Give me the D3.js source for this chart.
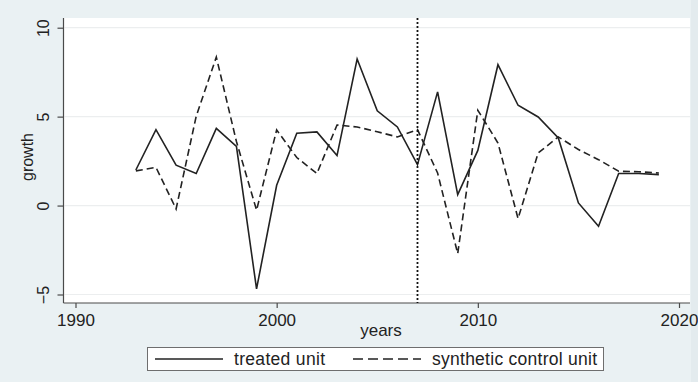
<!DOCTYPE html>
<html>
<head>
<meta charset="utf-8">
<script src="https://cdn.jsdelivr.net/npm/d3@7/dist/d3.min.js"></script>
<style>
  html, body { margin: 0; padding: 0; background: #eaf1f3; }
  svg { display: block; font-family: "Liberation Sans", Arial, Helvetica, sans-serif; }
</style>
</head>
<body>
<svg id="chart" width="698" height="382"></svg>
<script>
// Annual growth: treated unit vs. synthetic control unit
const years = [1993, 1994, 1995, 1996, 1997, 1998, 1999, 2000, 2001, 2002, 2003, 2004, 2005,
               2006, 2007, 2008, 2009, 2010, 2011, 2012, 2013, 2014, 2015, 2016, 2017, 2018, 2019];
const treated = [2.0, 4.27, 2.27, 1.8, 4.34, 3.33, -4.68, 1.14, 4.07, 4.14, 2.81, 8.24, 5.33,
                 4.42, 2.3, 6.39, 0.62, 3.1, 7.92, 5.64, 4.98, 3.8, 0.15, -1.16, 1.8, 1.8, 1.74];
const synthetic = [1.95, 2.15, -0.19, 5.02, 8.35, 3.6, -0.26, 4.25, 2.7, 1.8, 4.53, 4.42, 4.15,
                   3.86, 4.27, 1.83, -2.7, 5.36, 3.52, -0.73, 2.96, 3.86, 3.15, 2.58, 1.93, 1.9, 1.83];
const xTicks = [1990, 2000, 2010, 2020];
const yTicks = [-5, 0, 5, 10];
const interventionYear = 2007;
const seriesNames = ["treated unit", "synthetic control unit"];

const svg = d3.select("#chart");
const W = 698, H = 382;

// outer graph region
svg.append("rect").attr("x", 0).attr("y", 0).attr("width", W).attr("height", H).attr("fill", "#eaf1f3");
svg.append("rect").attr("x", 691).attr("y", 0).attr("width", 7).attr("height", H).attr("fill", "#e3ebee");

// plot region
const plot = { left: 63.5, right: 690, top: 18, bottom: 303 };
svg.append("rect")
  .attr("x", plot.left).attr("y", plot.top)
  .attr("width", plot.right - plot.left).attr("height", plot.bottom - plot.top)
  .attr("fill", "#ffffff");

const x = d3.scaleLinear().domain([1990, 2020]).range([75.5, 679]);
const y = d3.scaleLinear().domain([-5, 10]).range([294.5, 27.7]);

// horizontal grid
svg.append("g").selectAll("line").data(yTicks).join("line")
  .attr("x1", plot.left + 1).attr("x2", plot.right)
  .attr("y1", d => y(d)).attr("y2", d => y(d))
  .attr("stroke", "#eceeef").attr("stroke-width", 1.2);

// y axis
const yAxis = d3.axisLeft(y).tickValues(yTicks).tickSize(6).tickPadding(0).tickFormat(d3.format("d"));
const gy = svg.append("g").attr("transform", `translate(${plot.left},0)`).call(yAxis);
gy.select(".domain").attr("d", `M0,${plot.top}V${plot.bottom}`).attr("stroke", "#4a4a4a").attr("stroke-width", 1.2);
gy.selectAll(".tick line").attr("stroke", "#4a4a4a").attr("stroke-width", 1.2);
gy.selectAll(".tick text")
  .attr("x", 0).attr("dy", null)
  .attr("transform", "translate(-20,0) rotate(-90)")
  .attr("text-anchor", "middle").attr("dominant-baseline", "central")
  .attr("font-size", 16).attr("fill", "#222");

// x axis
const xAxis = d3.axisBottom(x).tickValues(xTicks).tickSize(5).tickPadding(6).tickFormat(d3.format("d"));
const gx = svg.append("g").attr("transform", `translate(0,${plot.bottom})`).call(xAxis);
gx.select(".domain").attr("d", `M${plot.left},0H${plot.right}`).attr("stroke", "#4a4a4a").attr("stroke-width", 1.2);
gx.selectAll(".tick line").attr("stroke", "#4a4a4a").attr("stroke-width", 1.2);
gx.selectAll(".tick text").attr("font-size", 17).attr("fill", "#222");

// axis titles
svg.append("text").attr("x", 381).attr("y", 336).attr("text-anchor", "middle")
  .attr("font-size", 17).attr("fill", "#222").text("years");
svg.append("text").attr("transform", "translate(27,157) rotate(-90)")
  .attr("text-anchor", "middle").attr("dominant-baseline", "central")
  .attr("font-size", 16).attr("fill", "#222").text("growth");

// series
const line = vals => d3.line().x((d, i) => x(years[i])).y(d => y(d))(vals);
svg.append("path").attr("d", line(synthetic))
  .attr("fill", "none").attr("stroke", "#222").attr("stroke-width", 1.6)
  .attr("stroke-dasharray", "7,4");
svg.append("path").attr("d", line(treated))
  .attr("fill", "none").attr("stroke", "#222").attr("stroke-width", 1.6)
  .attr("stroke-linejoin", "miter");

// intervention marker
svg.append("line")
  .attr("x1", x(interventionYear)).attr("x2", x(interventionYear))
  .attr("y1", plot.top).attr("y2", plot.bottom)
  .attr("stroke", "#111").attr("stroke-width", 1.8).attr("stroke-dasharray", "2,2");

// legend
const lg = svg.append("g");
lg.append("rect").attr("x", 147.5).attr("y", 347.5).attr("width", 456).attr("height", 23)
  .attr("fill", "#ffffff").attr("stroke", "#6e6e6e").attr("stroke-width", 1);
lg.append("line").attr("x1", 155).attr("x2", 223).attr("y1", 359).attr("y2", 359)
  .attr("stroke", "#222").attr("stroke-width", 1.6);
lg.append("line").attr("x1", 353).attr("x2", 421).attr("y1", 359).attr("y2", 359)
  .attr("stroke", "#222").attr("stroke-width", 1.6).attr("stroke-dasharray", "10,5");
lg.append("text").attr("x", 234).attr("y", 365).attr("font-size", 17.5).attr("fill", "#222")
  .attr("textLength", 91).text(seriesNames[0]);
lg.append("text").attr("x", 432).attr("y", 365).attr("font-size", 17.5).attr("fill", "#222")
  .attr("textLength", 165).text(seriesNames[1]);
</script>
</body>
</html>
